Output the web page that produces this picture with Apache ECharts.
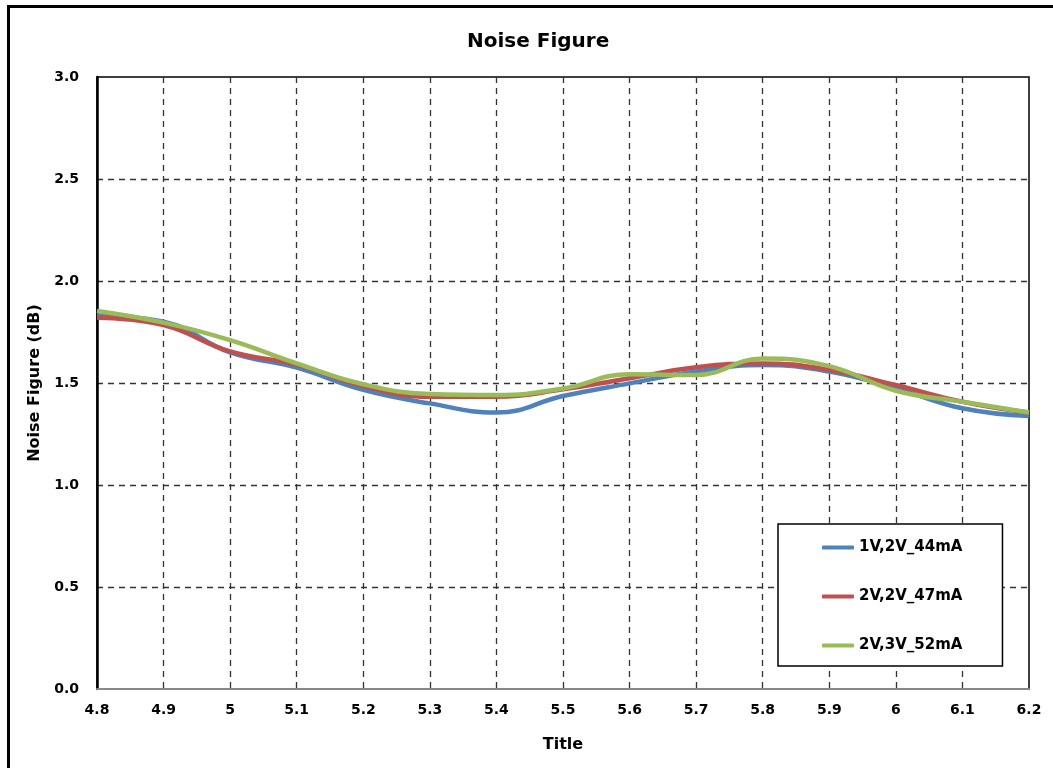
<!DOCTYPE html>
<html>
<head>
<meta charset="utf-8">
<script src="https://cdn.jsdelivr.net/npm/echarts@6/dist/echarts.min.js"></script>
<style>
  html, body { margin: 0; padding: 0; background: #fff; }
  #main { width: 1053px; height: 768px; }
</style>
</head>
<body>
<div id="main"></div>
<script>
// frequency (x axis categories)
var freqs = ['4.8', '4.9', '5', '5.1', '5.2', '5.3', '5.4', '5.5', '5.6', '5.7', '5.8', '5.9', '6', '6.1', '6.2'];
// noise figure (dB) per bias setting
var nf44 = [1.83, 1.80, 1.65, 1.575, 1.466, 1.40, 1.355, 1.436, 1.498, 1.556, 1.588, 1.556, 1.474, 1.376, 1.338];
var nf47 = [1.82, 1.784, 1.655, 1.59, 1.485, 1.433, 1.433, 1.469, 1.523, 1.577, 1.596, 1.564, 1.49, 1.408, 1.355];
var nf52 = [1.853, 1.796, 1.71, 1.596, 1.494, 1.446, 1.441, 1.473, 1.543, 1.539, 1.62, 1.583, 1.462, 1.408, 1.355];
var names = ['1V,2V_44mA', '2V,2V_47mA', '2V,3V_52mA'];
var yTicks = [0, 0.5, 1, 1.5, 2, 2.5, 3];

var font = 'DejaVu Sans';
var chart = echarts.init(document.getElementById('main'));

function mkLine(name, data, color) {
  return {
    name: name,
    type: 'line',
    data: data,
    smooth: 0.45,
    symbol: 'none',
    lineStyle: { width: 4.5, color: color },
    itemStyle: { color: color }
  };
}

var gridDash = { color: '#333', type: [6, 5], width: 1.3 };

var option = {
  backgroundColor: '#ffffff',
  animation: false,
  title: {
    text: 'Noise Figure',
    left: 462,
    top: 27,
    textStyle: { fontFamily: font, fontSize: 20, fontWeight: 'bold', color: '#000' }
  },
  graphic: [{
    type: 'rect',
    shape: { x: 8.5, y: 6.5, width: 1100, height: 800 },
    style: { fill: 'none', stroke: '#000', lineWidth: 3 }
  }],
  legend: {
    orient: 'vertical',
    left: 778,
    top: 524,
    padding: [16, 40, 13, 44],
    itemGap: 34,
    itemWidth: 32,
    itemHeight: 4,
    icon: 'roundRect',
    backgroundColor: '#fff',
    borderColor: '#000',
    borderWidth: 1.5,
    borderRadius: 0,
    data: names,
    textStyle: { fontFamily: font, fontSize: 15, fontWeight: 'bold', color: '#000' }
  },
  grid: {
    left: 97, top: 77, right: 24, bottom: 79,
    show: true,
    borderColor: '#000',
    borderWidth: 1.5
  },
  xAxis: {
    type: 'category',
    data: freqs,
    boundaryGap: false,
    name: 'Title',
    nameLocation: 'middle',
    nameGap: 48,
    nameTextStyle: { fontFamily: font, fontSize: 16, fontWeight: 'bold', color: '#000' },
    axisLine: { lineStyle: { color: '#888', width: 2 } },
    axisTick: { show: false },
    axisLabel: { margin: 14, fontFamily: font, fontSize: 14, fontWeight: 'bold', color: '#000' },
    splitLine: { show: true, showMinLine: false, showMaxLine: false, lineStyle: gridDash }
  },
  yAxis: {
    type: 'value',
    min: yTicks[0],
    max: yTicks[yTicks.length - 1],
    interval: 0.5,
    name: 'Noise Figure (dB)',
    nameLocation: 'middle',
    nameGap: 50,
    nameTextStyle: { fontFamily: font, fontSize: 16, fontWeight: 'bold', color: '#000' },
    axisLine: { show: true, lineStyle: { color: '#000', width: 2.5 } },
    axisTick: { show: false },
    axisLabel: {
      margin: 18,
      fontFamily: font, fontSize: 14, fontWeight: 'bold', color: '#000',
      formatter: function (v) { return v.toFixed(1); }
    },
    splitLine: { show: true, showMinLine: false, showMaxLine: false, lineStyle: gridDash }
  },
  series: [
    mkLine(names[0], nf44, '#4F81BD'),
    mkLine(names[1], nf47, '#C0504D'),
    mkLine(names[2], nf52, '#9BBB59')
  ]
};
chart.setOption(option);
</script>
</body>
</html>
